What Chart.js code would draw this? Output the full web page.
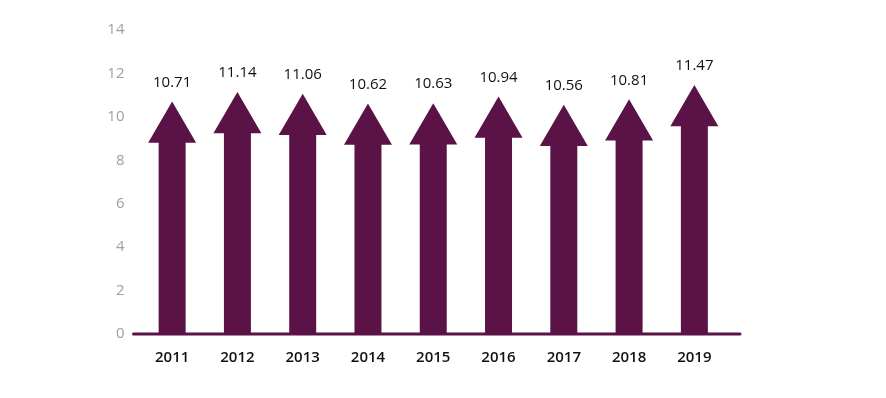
<!DOCTYPE html>
<html>
<head>
<meta charset="utf-8">
<script src="https://cdn.jsdelivr.net/npm/chart.js@4.4.0/dist/chart.umd.min.js"></script>
<style>
html,body{margin:0;padding:0;background:#fff;}
#wrap{width:886px;height:398px;position:relative;}
</style>
</head>
<body>
<div id="wrap"><canvas id="c" width="886" height="398"></canvas></div>
<script>
const categories = ['2011','2012','2013','2014','2015','2016','2017','2018','2019'];
const values = [10.71, 11.14, 11.06, 10.62, 10.63, 10.94, 10.56, 10.81, 11.47];
const yTicks = [0, 2, 4, 6, 8, 10, 12, 14];

const PURPLE = '#5b1247';

const arrowPlugin = {
  id: 'arrows',
  afterDatasetsDraw(chart) {
    const ctx = chart.ctx;
    const meta = chart.getDatasetMeta(0);
    const yScale = chart.scales.y;
    const area = chart.chartArea;
    ctx.save();
    meta.data.forEach((bar, i) => {
      const p = bar.getProps(['x', 'y', 'base', 'width'], true);
      const headW = p.width;
      const shaftW = headW * 0.5625;
      const headH = headW * 0.86;
      const tipY = p.y;
      const headBase = tipY + headH;
      ctx.fillStyle = PURPLE;
      ctx.beginPath();
      ctx.moveTo(p.x, tipY);
      ctx.lineTo(p.x + headW / 2, headBase);
      ctx.lineTo(p.x + shaftW / 2, headBase);
      ctx.lineTo(p.x + shaftW / 2, p.base);
      ctx.lineTo(p.x - shaftW / 2, p.base);
      ctx.lineTo(p.x - shaftW / 2, headBase);
      ctx.lineTo(p.x - headW / 2, headBase);
      ctx.closePath();
      ctx.fill();
      // value label
      ctx.fillStyle = '#111';
      ctx.font = '15px "Open Sans", sans-serif';
      ctx.textAlign = 'center';
      ctx.textBaseline = 'middle';
      ctx.fillText(values[i].toFixed(2), p.x, tipY - 19);
    });
    // baseline axis line
    const y0 = yScale.getPixelForValue(0);
    ctx.strokeStyle = PURPLE;
    ctx.lineWidth = 3;
    ctx.lineCap = 'round';
    ctx.beginPath();
    ctx.moveTo(area.left - 6, y0);
    ctx.lineTo(area.right + 13, y0);
    ctx.stroke();
    ctx.restore();
  }
};

new Chart(document.getElementById('c'), {
  type: 'bar',
  data: {
    labels: categories,
    datasets: [{
      data: values,
      backgroundColor: 'rgba(0,0,0,0)',
      borderWidth: 0,
      categoryPercentage: 1,
      barPercentage: 0.735
    }]
  },
  options: {
    responsive: false,
    animation: false,
    events: [],
    layout: { padding: { top: 30, right: 159, bottom: 0, left: 0 } },
    plugins: { legend: { display: false }, tooltip: { enabled: false } },
    scales: {
      x: {
        grid: { display: false, drawTicks: false },
        border: { display: false },
        ticks: {
          color: '#111',
          padding: 15,
          font: { family: '"Open Sans", sans-serif', size: 15, weight: '600' }
        },
        afterFit(scale) { scale.height = 64; }
      },
      y: {
        min: 0, max: 14,
        grid: { display: false, drawTicks: false },
        border: { display: false },
        afterBuildTicks(scale) { scale.ticks = yTicks.map(v => ({ value: v })); },
        ticks: {
          color: '#a0a0a0',
          padding: 15,
          font: { family: '"Open Sans", sans-serif', size: 15 }
        },
        afterFit(scale) { scale.width = 139.5; }
      }
    }
  },
  plugins: [arrowPlugin]
});
</script>
</body>
</html>
